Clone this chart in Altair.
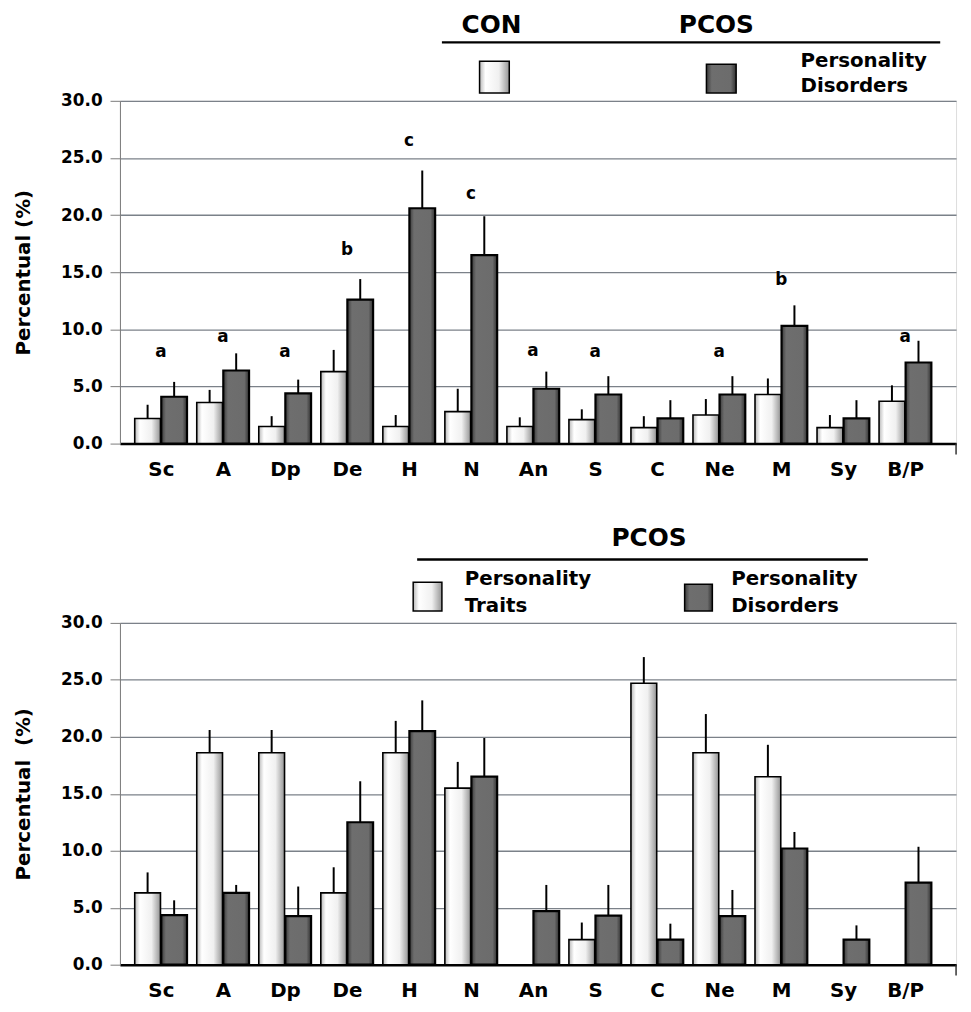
import json
import altair as alt
import pandas as pd

FONT = "DejaVu Sans"

categories = ["Sc", "A", "Dp", "De", "H", "N", "An", "S", "C", "Ne", "M", "Sy", "B/P"]
y_ticks = [0, 5, 10, 15, 20, 25, 30]

# ---- top panel: CON vs PCOS (personality disorders)
top_groups = ["CON", "PCOS"]
con_values = [2.2, 3.6, 1.5, 6.3, 1.5, 2.8, 1.5, 2.1, 1.4, 2.5, 4.3, 1.4, 3.7]
con_errors = [1.2, 1.1, 0.9, 1.9, 1.0, 2.0, 0.8, 0.9, 1.0, 1.4, 1.4, 1.1, 1.4]
pcos_values = [4.1, 6.4, 4.4, 12.6, 20.6, 16.5, 4.8, 4.3, 2.2, 4.3, 10.3, 2.2, 7.1]
pcos_errors = [1.3, 1.5, 1.2, 1.8, 3.3, 3.4, 1.5, 1.6, 1.6, 1.6, 1.8, 1.6, 1.9]
top_letters = ["a", "a", "a", "b", "c", "c", "a", "a", "", "a", "b", "", "a"]
letter_heights = [8.0, 9.3, 8.0, 16.9, 26.5, 21.8, 8.1, 8.0, None, 8.0, 14.3, None, 9.3]

# ---- bottom panel: PCOS traits vs disorders
bottom_groups = ["Traits", "Disorders"]
traits_values = [6.3, 18.6, 18.6, 6.3, 18.6, 15.5, None, 2.2, 24.7, 18.6, 16.5, None, None]
traits_errors = [1.8, 2.0, 2.0, 2.25, 2.8, 2.3, None, 1.5, 2.3, 3.4, 2.8, None, None]
disorder_values = [4.35, 6.3, 4.26, 12.5, 20.5, 16.5, 4.7, 4.3, 2.2, 4.26, 10.2, 2.2, 7.2]
disorder_errors = [1.3, 0.7, 2.6, 3.6, 2.7, 3.4, 2.3, 2.7, 1.4, 2.3, 1.45, 1.25, 3.15]

top_header = ["CON", "PCOS"]
top_legend_label = ["Personality", "Disorders"]
bottom_header = ["PCOS"]
bottom_legend_left = ["Personality", "Traits"]
bottom_legend_right = ["Personality", "Disorders"]
y_title_top = "Percentual (%)"
y_title_bottom = "Percentual\u00a0 (%)"


def long_frame(groups, series):
    rows = []
    for gi, (g, (vals, errs)) in enumerate(zip(groups, series)):
        for ci, (c, v, e) in enumerate(zip(categories, vals, errs)):
            if v is None:
                continue
            rows.append({"cat": c, "idx": ci, "gi": gi, "group": g, "value": v, "top": v + e})
    return pd.DataFrame(rows)


top_df = long_frame(top_groups, [(con_values, con_errors), (pcos_values, pcos_errors)])
bottom_df = long_frame(bottom_groups, [(traits_values, traits_errors), (disorder_values, disorder_errors)])
letters_df = pd.DataFrame(
    [{"cat": c, "idx": i, "letter": l, "h": h}
     for i, (c, l, h) in enumerate(zip(categories, top_letters, letter_heights)) if l]
)

white_grad = alt.Gradient(
    gradient="linear", x1=0, x2=1, y1=0, y2=0,
    stops=[
        alt.GradientStop(offset=0, color="#b8b8b8"),
        alt.GradientStop(offset=0.2, color="#ffffff"),
        alt.GradientStop(offset=0.65, color="#f0f0f0"),
        alt.GradientStop(offset=1, color="#959595"),
    ],
)
dark_grad = alt.Gradient(
    gradient="linear", x1=0, x2=1, y1=0, y2=0,
    stops=[
        alt.GradientStop(offset=0, color="#3a3a3a"),
        alt.GradientStop(offset=0.18, color="#6e6e6e"),
        alt.GradientStop(offset=0.82, color="#6c6c6c"),
        alt.GradientStop(offset=1, color="#303030"),
    ],
)

W = 844
BAR_W = 26
HALF_GAP = 0.214  # offset of each bar from its category centre, in category units

one = pd.DataFrame({"k": [0]})
label_expr = json.dumps(categories) + "[datum.value]"

x_scale = alt.Scale(domain=[-0.58, 12.74], nice=False, zero=False)
y_scale = alt.Scale(domain=[0, 30], nice=False)


def txt(label, x, y, size, align="center"):
    return alt.Chart(one).mark_text(
        text=label, font=FONT, fontWeight="bold", fontSize=size, color="black",
        align=align, baseline="middle",
    ).encode(x=alt.value(x), y=alt.value(y))


def box(x1, x2, y1, y2, grad):
    return alt.Chart(one).mark_rect(fill=grad, stroke="black", strokeWidth=1.5).encode(
        x=alt.value(x1), x2=alt.value(x2), y=alt.value(y1), y2=alt.value(y2)
    )


def hline(x1, x2, y):
    return alt.Chart(one).mark_rule(color="black", strokeWidth=2.5).encode(
        x=alt.value(x1), x2=alt.value(x2), y=alt.value(y)
    )


def panel(df, groups, title, height):
    xs = alt.X(
        "pos:Q", title=None, scale=x_scale,
        axis=alt.Axis(values=list(range(len(categories))), labelExpr=label_expr,
                      labelAngle=0, ticks=False, grid=False, domainColor="black",
                      domainWidth=2.5, labelFontSize=20, labelFontWeight="bold",
                      labelFont=FONT, labelColor="black", labelPadding=16,
                      labelFlush=False, labelOverlap=False),
    )
    ys = alt.Y(
        "value:Q", title=title, scale=y_scale,
        axis=alt.Axis(values=y_ticks, format=".1f", labelFontSize=17, labelFontWeight="bold",
                      labelFont=FONT, labelColor="black", labelPadding=8,
                      tickSize=10, tickColor="#7a7a7a", domainColor="#7a7a7a",
                      gridColor="#7b8189", gridWidth=1.3, titleFontSize=20,
                      titleFont=FONT, titleFontWeight="bold", titleColor="black",
                      titlePadding=27),
    )
    base = alt.Chart(df).transform_calculate(
        pos=f"datum.idx + (datum.gi * 2 - 1) * {HALF_GAP}"
    ).encode(x=xs, y=ys)
    b1 = base.transform_filter(alt.datum.gi == 0).mark_bar(
        fill=white_grad, stroke="black", strokeWidth=1.6, width=BAR_W)
    b2 = base.transform_filter(alt.datum.gi == 1).mark_bar(
        fill=dark_grad, stroke="black", strokeWidth=2.2, width=BAR_W)
    err = base.mark_rule(color="black", strokeWidth=2).encode(y2="top:Q")
    endtick = alt.Chart(one).mark_rule(color="#333333", strokeWidth=1.5).encode(
        x=alt.value(W), y=alt.value(height), y2=alt.value(height + 11))
    return [b1, b2, err, endtick]


top_layers = panel(top_df, top_groups, y_title_top, 346)
letters = alt.Chart(letters_df).mark_text(
    font=FONT, fontWeight="bold", fontSize=17, color="black", baseline="middle"
).encode(
    x=alt.X("idx:Q", scale=x_scale),
    y=alt.Y("h:Q", scale=y_scale),
    text="letter:N",
)
top_legend = [
    txt(top_header[0], 375, -76, 25),
    txt(top_header[1], 602, -76, 25),
    hline(325, 828, -59),
    box(363, 393, -40, -8, white_grad),
    box(592, 622, -37, -8, dark_grad),
    txt(top_legend_label[0], 687, -40, 20, "left"),
    txt(top_legend_label[1], 687, -15, 20, "left"),
]
top = alt.layer(*top_layers, letters, *top_legend).properties(width=W, height=346)

bottom_layers = panel(bottom_df, bottom_groups, y_title_bottom, 345)
bottom_legend = [
    txt(bottom_header[0], 534, -86, 25),
    hline(300, 755, -64),
    box(296, 325, -41, -12, white_grad),
    box(570, 598, -39, -12, dark_grad),
    txt(bottom_legend_left[0], 348, -44, 20, "left"),
    txt(bottom_legend_left[1], 348, -17, 20, "left"),
    txt(bottom_legend_right[0], 617, -44, 20, "left"),
    txt(bottom_legend_right[1], 617, -17, 20, "left"),
]
bottom = alt.layer(*bottom_layers, *bottom_legend).properties(width=W, height=345)

chart = alt.vconcat(top, bottom, spacing=181, bounds="flush").properties(
    padding={"left": 5, "top": 0, "right": 5, "bottom": 0}
).configure_view(stroke=None).configure(background="white")

chart.save("out.html", embed_options={"renderer": "svg", "actions": False})
